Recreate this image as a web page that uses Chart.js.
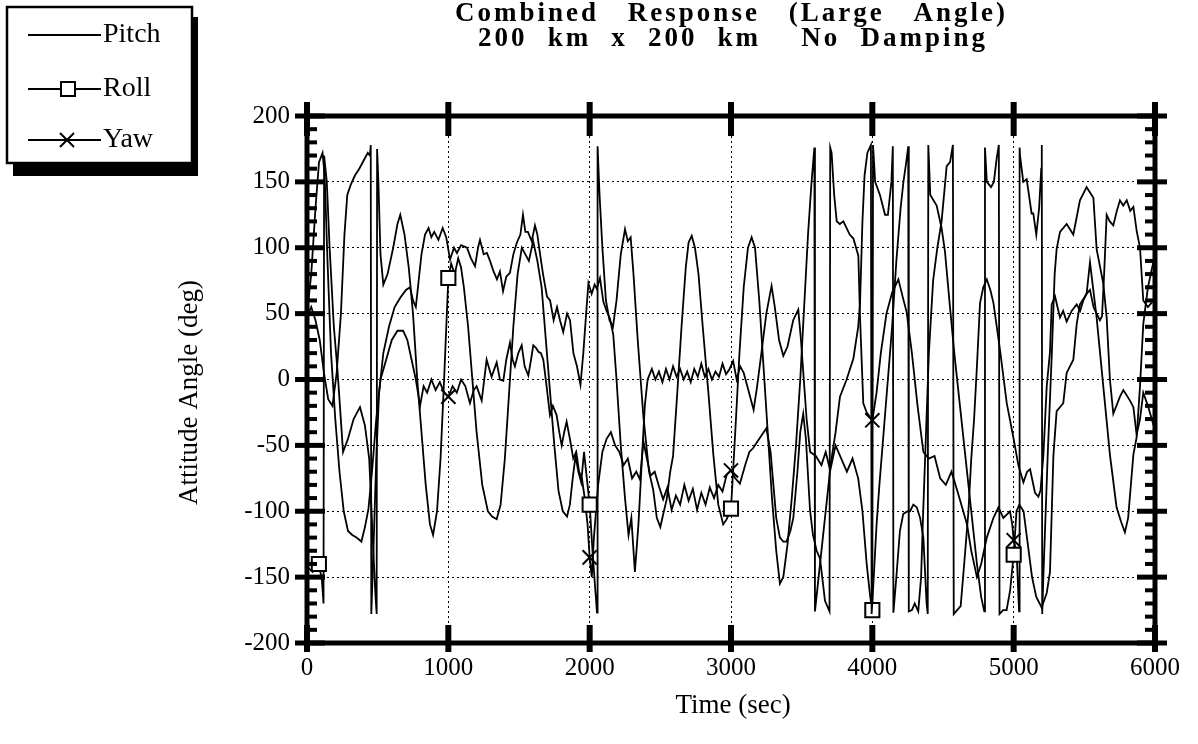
<!DOCTYPE html>
<html><head><meta charset="utf-8">
<script src="https://cdn.jsdelivr.net/npm/chart.js@4.4.1/dist/chart.umd.min.js"></script>
<style>html,body{margin:0;padding:0;background:#fff;overflow:hidden}#wrap{position:relative;width:1198px;height:744px}</style>
</head><body><div id="wrap"><canvas id="c" width="1198" height="744"></canvas></div>
<script>
const titleLines = ["Combined Response (Large Angle)", "200 km x 200 km  No Damping"];
const xTitle = "Time (sec)";
const yTitle = "Attitude Angle (deg)";
const seriesNames = ["Pitch", "Roll", "Yaw"];
const timeTicks = [0, 1000, 2000, 3000, 4000, 5000, 6000];
const angleTicks = [-200, -150, -100, -50, 0, 50, 100, 150, 200];

const pitch = [[0,48],[30,55],[60,45],[90,30],[120,5],[150,-15],[180,-20],[210,5],[240,50],[265,110],[285,140],[310,148],[340,155],[370,160],[400,166],[430,172],[445,170],[451,178],[455,-178],[470,-130],[490,-60],[510,-10],[540,20],[580,40],[620,55],[660,62],[700,68],[729,70],[750,60],[770,55],[790,75],[810,95],[835,110],[860,115],[880,108],[900,112],[930,106],[960,115],[985,108],[1012,91],[1040,100],[1061,96],[1090,102],[1132,100],[1160,92],[1189,86],[1210,100],[1224,106],[1250,95],[1273,96],[1295,90],[1320,82],[1344,76],[1365,82],[1387,67],[1410,78],[1436,81],[1460,95],[1485,104],[1510,110],[1528,125],[1545,112],[1563,112],[1590,105],[1613,117],[1630,110],[1648,96],[1670,80],[1698,63],[1720,60],[1745,45],[1769,55],[1790,45],[1813,36],[1840,50],[1861,45],[1885,20],[1910,10],[1935,-4],[1955,20],[1975,50],[1991,73],[2014,65],[2035,72],[2050,69],[2073,77],[2097,59],[2120,52],[2144,46],[2167,34],[2190,0],[2220,-50],[2250,-90],[2275,-118],[2295,-105],[2320,-146],[2345,-110],[2370,-60],[2390,-20],[2410,0],[2440,8],[2465,0],[2490,6],[2515,-2],[2540,8],[2565,0],[2590,10],[2615,2],[2640,8],[2665,0],[2690,6],[2715,-2],[2740,8],[2765,2],[2790,12],[2815,2],[2840,8],[2865,0],[2890,6],[2915,2],[2940,12],[2965,4],[2990,8],[3015,14],[3040,0],[3065,10],[3090,5],[3115,-5],[3140,-15],[3160,-23],[3185,-5],[3215,20],[3250,50],[3287,71],[3310,55],[3340,30],[3370,18],[3400,25],[3440,45],[3476,53],[3495,30],[3515,0],[3535,-30],[3560,-55],[3600,-58],[3640,-65],[3670,-55],[3700,-68],[3740,-40],[3771,-13],[3818,0],[3866,16],[3900,40],[3913,58],[3930,120],[3945,155],[3965,172],[3990,178],[3995,-178],[4010,-150],[4030,-110],[4050,-80],[4080,-40],[4110,0],[4140,40],[4170,90],[4200,130],[4220,150],[4240,165],[4254,177],[4258,-176],[4280,-175],[4300,-170],[4325,-176],[4345,-150],[4360,-100],[4380,-40],[4400,20],[4430,75],[4460,100],[4490,120],[4526,162],[4550,165],[4570,178],[4576,-178],[4600,-175],[4625,-172],[4650,-140],[4680,-100],[4700,-60],[4720,-30],[4740,10],[4762,58],[4785,70],[4810,76],[4835,68],[4857,58],[4904,22],[4951,-18],[4998,-44],[5033,-65],[5069,-78],[5095,-70],[5116,-68],[5151,-86],[5175,-89],[5190,-84],[5210,-58],[5234,-5],[5257,21],[5269,57],[5293,63],[5310,55],[5328,47],[5350,52],[5375,44],[5410,52],[5446,57],[5470,52],[5493,60],[5515,65],[5540,68],[5565,55],[5587,50],[5610,45],[5625,48],[5640,80],[5658,125],[5680,120],[5705,117],[5730,128],[5752,136],[5775,132],[5800,136],[5825,128],[5847,131],[5870,113],[5894,100],[5917,60],[5950,55],[5990,60]];

const roll = [[0,-142],[40,-146],[84,-140],[105,-152],[117,-170],[121,170],[140,150],[160,100],[190,40],[215,8],[233,-20],[255,-55],[290,-45],[330,-30],[375,-21],[410,-35],[440,-60],[465,-120],[485,-165],[493,-178],[496,175],[505,150],[520,95],[540,72],[570,80],[610,100],[640,118],[660,125],[690,110],[720,85],[750,50],[780,0],[810,-40],[840,-80],[870,-110],[892,-118],[920,-100],[945,-60],[970,0],[1000,77],[1020,88],[1045,80],[1070,92],[1090,85],[1110,70],[1140,40],[1170,0],[1200,-40],[1240,-80],[1280,-100],[1310,-104],[1342,-106],[1370,-95],[1400,-60],[1430,-10],[1460,40],[1490,80],[1520,100],[1545,95],[1570,90],[1600,105],[1630,90],[1660,70],[1690,30],[1720,-10],[1750,-50],[1780,-85],[1810,-100],[1840,-104],[1860,-95],[1880,-75],[1900,-58],[1920,-70],[1940,-78],[1960,-55],[1980,-75],[2000,-95],[2020,-130],[2040,-160],[2052,-177],[2056,177],[2070,140],[2090,100],[2115,60],[2140,45],[2165,40],[2190,60],[2220,95],[2250,114],[2270,105],[2290,108],[2310,80],[2340,30],[2380,-28],[2420,-70],[2450,-84],[2475,-105],[2500,-112],[2525,-100],[2545,-91],[2570,-70],[2590,-58],[2620,-10],[2650,40],[2680,85],[2700,104],[2722,109],[2745,100],[2770,80],[2800,40],[2840,-10],[2875,-57],[2910,-95],[2945,-110],[2970,-106],[3000,-98],[3030,-40],[3060,20],[3090,70],[3120,100],[3146,108],[3170,100],[3200,60],[3230,10],[3260,-40],[3290,-90],[3320,-130],[3346,-155],[3370,-150],[3400,-125],[3430,-90],[3460,-50],[3490,0],[3520,60],[3545,110],[3570,150],[3590,176],[3594,-176],[3610,-160],[3630,-140],[3660,-110],[3700,-70],[3740,-50],[3780,-60],[3820,-70],[3860,-60],[3900,-75],[3930,-100],[3960,-140],[3985,-165],[4000,-175],[4005,178],[4020,150],[4054,140],[4090,125],[4110,125],[4135,150],[4145,177],[4149,-177],[4170,-150],[4195,-115],[4219,-102],[4250,-100],[4267,-100],[4290,-95],[4314,-97],[4338,-105],[4361,-120],[4384,-170],[4392,-178],[4396,178],[4410,140],[4455,132],[4490,115],[4514,97],[4545,60],[4580,20],[4620,-20],[4660,-60],[4700,-100],[4740,-140],[4770,-165],[4792,-176],[4797,176],[4810,150],[4840,146],[4860,150],[4880,168],[4895,178],[4900,-178],[4925,-175],[4950,-175],[4975,-160],[5000,-133],[5020,-100],[5040,-95],[5070,-100],[5100,-125],[5130,-150],[5160,-165],[5198,-173],[5234,-162],[5257,-146],[5281,-58],[5304,-24],[5351,-18],[5375,5],[5422,15],[5446,42],[5469,57],[5516,65],[5540,89],[5587,47],[5634,-5],[5681,-57],[5728,-97],[5760,-108],[5787,-116],[5810,-105],[5847,-57],[5870,-44],[5894,-5],[5917,42],[5950,70],[5990,90]];

const yaw = [[0,50],[30,80],[60,130],[85,165],[110,172],[125,155],[145,90],[170,20],[200,-30],[230,-70],[260,-100],[290,-115],[320,-118],[350,-120],[385,-123],[410,-112],[435,-98],[460,-70],[490,-30],[520,0],[560,15],[600,30],[640,37],[680,37],[710,30],[740,15],[770,0],[800,-20],[825,-5],[850,-10],[880,0],[910,-8],[940,-2],[970,-10],[1000,-13],[1030,-5],[1060,-10],[1090,0],[1120,-5],[1153,-18],[1180,-8],[1200,-5],[1236,-16],[1271,15],[1306,2],[1342,13],[1365,0],[1389,-1],[1410,15],[1436,28],[1455,15],[1471,10],[1495,20],[1519,26],[1540,10],[1566,3],[1585,15],[1601,26],[1620,24],[1637,21],[1655,20],[1672,15],[1695,-5],[1719,-27],[1740,-20],[1766,-27],[1785,-40],[1802,-50],[1820,-40],[1837,-32],[1860,-45],[1884,-60],[1905,-55],[1925,-70],[1945,-75],[1965,-90],[1985,-110],[2000,-135],[2015,-150],[2030,-120],[2060,-80],[2090,-55],[2120,-45],[2150,-40],[2180,-50],[2210,-55],[2240,-65],[2270,-60],[2300,-75],[2330,-70],[2356,-76],[2380,-47],[2405,-60],[2430,-73],[2460,-70],[2490,-81],[2520,-91],[2550,-82],[2580,-99],[2610,-88],[2640,-95],[2670,-80],[2700,-92],[2730,-83],[2760,-99],[2790,-86],[2820,-95],[2850,-82],[2880,-90],[2910,-80],[2940,-85],[2970,-72],[3000,-69],[3030,-75],[3063,-79],[3100,-65],[3130,-55],[3157,-52],[3200,-45],[3250,-37],[3280,-55],[3300,-80],[3320,-105],[3346,-120],[3370,-123],[3393,-123],[3420,-115],[3441,-105],[3470,-70],[3490,-40],[3511,-26],[3530,-45],[3559,-99],[3580,-118],[3606,-130],[3630,-136],[3665,-168],[3697,-176],[3702,176],[3712,172],[3730,140],[3748,120],[3770,118],[3795,120],[3840,110],[3866,107],[3901,94],[3913,47],[3936,-18],[3960,-25],[4000,-31],[4030,-10],[4060,20],[4100,50],[4140,66],[4184,76],[4219,61],[4243,51],[4280,20],[4320,-20],[4361,-55],[4400,-60],[4440,-58],[4480,-75],[4520,-80],[4560,-70],[4597,-83],[4630,-95],[4670,-110],[4700,-130],[4740,-150],[4770,-140],[4810,-120],[4857,-105],[4892,-97],[4927,-105],[4974,-100],[4990,-110],[5000,-122],[5021,-131],[5032,-160],[5038,-176],[5042,176],[5045,170],[5068,150],[5092,152],[5127,126],[5139,126],[5160,110],[5180,130],[5195,160],[5199,178],[5202,-178],[5210,-150],[5240,-60],[5270,20],[5290,80],[5304,99],[5328,112],[5375,118],[5422,110],[5469,136],[5516,146],[5564,138],[5587,99],[5634,73],[5658,47],[5681,0],[5705,-26],[5752,-13],[5776,-8],[5823,-16],[5847,-21],[5870,-42],[5894,-30],[5917,-10],[5950,-20],[5990,-35]];

const rollMarkerTimes = [84, 1000, 2000, 3000, 4000, 5000];
const yawMarkerTimes = [1000, 2000, 3000, 4000, 5000];

const SERIF = '"Liberation Serif", "Times New Roman", serif';
const toXY = arr => arr.map(p => ({x: p[0], y: p[1]}));
const markerRadius = (times, r) => ctx => (ctx.raw && times.includes(ctx.raw.x)) ? r : 0;

const decor = {
  id: 'decor',
  afterDraw(chart) {
    const {ctx, chartArea: a, scales} = chart;
    const xs = scales.x, ys = scales.y;
    ctx.save();
    ctx.fillStyle = '#000';
    ctx.strokeStyle = '#000';
    ctx.lineWidth = 5;
    ctx.strokeRect(a.left, a.top, a.right - a.left, a.bottom - a.top);
    for (let v = -200; v <= 200; v += 10) {
      const y = ys.getPixelForValue(v);
      if (v % 50 === 0) {
        ctx.fillRect(a.left - 12, y - 2.5, 30, 5);
        ctx.fillRect(a.right - 18, y - 2.5, 30, 5);
      } else {
        ctx.fillRect(a.left, y - 2, 10, 4);
        ctx.fillRect(a.right - 10, y - 2, 10, 4);
      }
    }
    timeTicks.forEach(t => {
      const x = xs.getPixelForValue(t);
      ctx.fillRect(x - 3, a.bottom - 18, 6, 27);
      ctx.fillRect(x - 3, a.top - 14, 6, 34);
    });
    ctx.font = '27px ' + SERIF;
    ctx.textAlign = 'center';
    ctx.textBaseline = 'middle';
    ctx.fillText(xTitle, (a.left + a.right) / 2 + 2, 706);
    ctx.save();
    ctx.translate(190, (a.top + a.bottom) / 2 + 13);
    ctx.rotate(-Math.PI / 2);
    ctx.fillText(yTitle, 0, 0);
    ctx.restore();
    // chart title
    ctx.font = 'bold 27px ' + SERIF;
    ctx.textAlign = 'left';
    const targets = [[455, 1005, 14], [478, 985, 39]];
    titleLines.forEach((s, i) => {
      const [l, r, y] = targets[i];
      ctx.letterSpacing = '3px';
      ctx.wordSpacing = '0px';
      const w = ctx.measureText(s).width - 3;
      const nSpaces = (s.match(/ /g) || []).length;
      const ws = Math.max(0, (r - l - w) / nSpaces);
      ctx.wordSpacing = ws.toFixed(2) + 'px';
      ctx.fillText(s, l, y);
    });
    ctx.letterSpacing = '0px';
    ctx.wordSpacing = '0px';
    // legend
    ctx.fillStyle = '#000';
    ctx.fillRect(13, 17, 185, 159);
    ctx.fillStyle = '#fff';
    ctx.fillRect(7, 7, 185, 156);
    ctx.lineWidth = 2.5;
    ctx.strokeRect(7, 7, 185, 156);
    const rowsY = [35, 89, 140];
    ctx.lineWidth = 1.8;
    ctx.font = '28px ' + SERIF;
    ctx.textBaseline = 'middle';
    seriesNames.forEach((n, i) => {
      const y = rowsY[i];
      ctx.strokeStyle = '#000';
      ctx.beginPath(); ctx.moveTo(28, y); ctx.lineTo(101, y); ctx.stroke();
      if (i === 1) {
        ctx.fillStyle = '#fff'; ctx.fillRect(61, y - 7, 14, 14);
        ctx.lineWidth = 2; ctx.strokeRect(61, y - 7, 14, 14); ctx.lineWidth = 1.8;
      } else if (i === 2) {
        ctx.lineWidth = 2;
        ctx.beginPath(); ctx.moveTo(60, y - 7); ctx.lineTo(74, y + 7);
        ctx.moveTo(74, y - 7); ctx.lineTo(60, y + 7); ctx.stroke();
        ctx.lineWidth = 1.8;
      }
      ctx.fillStyle = '#000';
      ctx.textAlign = 'left';
      ctx.fillText(n, 103, y);
    });
    ctx.restore();
  }
};

const common = {borderColor: '#000', borderWidth: 1.8, tension: 0, fill: false,
  pointBackgroundColor: '#fff', pointBorderColor: '#000', pointBorderWidth: 2, pointHoverRadius: 0};

new Chart(document.getElementById('c'), {
  type: 'line',
  data: {
    datasets: [
      Object.assign({label: seriesNames[0], data: toXY(pitch), pointRadius: 0}, common),
      Object.assign({label: seriesNames[1], data: toXY(roll), pointStyle: 'rect', pointRadius: markerRadius(rollMarkerTimes, 10)}, common),
      Object.assign({label: seriesNames[2], data: toXY(yaw), pointStyle: 'crossRot', pointRadius: markerRadius(yawMarkerTimes, 10)}, common)
    ]
  },
  options: {
    responsive: false,
    animation: false,
    devicePixelRatio: 1,
    layout: {padding: {left: 0, right: 43, top: 116, bottom: 0}},
    plugins: {legend: {display: false}, title: {display: false}, tooltip: {enabled: false}},
    scales: {
      x: {
        type: 'linear', min: 0, max: 6000,
        afterBuildTicks: s => { s.ticks = timeTicks.map(v => ({value: v})); },
        afterFit: s => { s.height = 101; },
        ticks: {color: '#000', font: {family: SERIF, size: 25}, padding: 10, maxRotation: 0, callback: v => String(v)},
        grid: {color: '#000', lineWidth: 1, drawTicks: false},
        border: {display: false, dash: [2, 3]}
      },
      y: {
        type: 'linear', min: -200, max: 200,
        afterBuildTicks: s => { s.ticks = angleTicks.map(v => ({value: v})); },
        afterFit: s => { s.width = 307; },
        ticks: {color: '#000', font: {family: SERIF, size: 25}, padding: 17, callback: v => String(v)},
        grid: {color: '#000', lineWidth: 1, drawTicks: false},
        border: {display: false, dash: [2, 3]}
      }
    }
  },
  plugins: [decor]
});
</script></body></html>
